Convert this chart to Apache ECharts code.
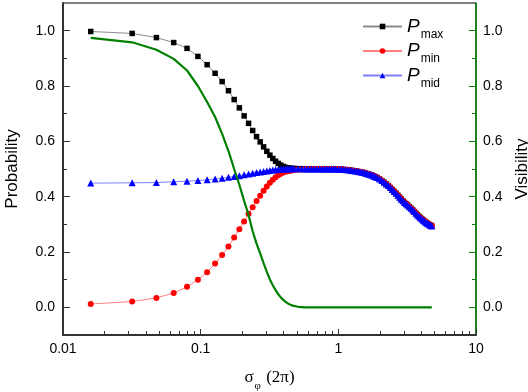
<!DOCTYPE html>
<html>
<head>
<meta charset="utf-8">
<script src="https://cdn.jsdelivr.net/npm/echarts@6/dist/echarts.min.js"></script>
<style>html,body{margin:0;padding:0;background:#fff}#c{width:528px;height:392px}</style>
</head>
<body>
<div id="c"></div>
<script>
// sigma (units of 2π), dense head part where the three curves differ
const sigmaHead = [0.0159,0.0318,0.0477,0.0637,0.0796,0.0955,0.1114,0.1273,0.1432,0.1592,0.1751,0.1910,0.2069,0.2228,0.2387,0.2546,0.2706,0.2865,0.3024,0.3183,0.3342,0.3501,0.3661,0.3820,0.3979,0.4138,0.4297,0.4456,0.4615,0.4775,0.5093,0.5411,0.5730,0.6048];
// tail part where Pmax, Pmin and Pmid coincide
const sigmaTail = [0.6366,0.6685,0.7003,0.7321,0.7639,0.7958,0.8276,0.8594,0.8913,0.9231,0.9549,1.0027,1.0504,1.0982,1.1459,1.1937,1.2414,1.2892,1.3369,1.3846,1.4324,1.4801,1.5279,1.5756,1.6234,1.6711,1.7189,1.7666,1.8144,1.8621,1.9099,1.9894,2.0690,2.1486,2.2282,2.3077,2.3873,2.4669,2.5465,2.6261,2.7056,2.7852,2.8648,2.9444,3.0239,3.1035,3.1831,3.2786,3.3741,3.4696,3.5651,3.6606,3.7561,3.8515,3.9470,4.0425,4.1380,4.2335,4.3290,4.4245,4.5200,4.6155,4.7110,4.7746];
const pTail = [0.500,0.500,0.500,0.500,0.500,0.500,0.500,0.500,0.500,0.500,0.500,0.499,0.499,0.498,0.497,0.496,0.495,0.494,0.493,0.491,0.490,0.488,0.487,0.485,0.483,0.481,0.479,0.477,0.474,0.472,0.469,0.464,0.458,0.452,0.446,0.440,0.433,0.426,0.419,0.412,0.405,0.398,0.391,0.385,0.379,0.374,0.370,0.364,0.358,0.352,0.346,0.340,0.334,0.329,0.324,0.319,0.315,0.311,0.307,0.304,0.301,0.298,0.296,0.294];
const pMaxHead = [0.997,0.990,0.975,0.957,0.936,0.907,0.877,0.846,0.816,0.783,0.751,0.721,0.692,0.665,0.639,0.617,0.598,0.580,0.564,0.550,0.538,0.528,0.520,0.514,0.509,0.506,0.504,0.503,0.502,0.502,0.501,0.501,0.500,0.500];
const pMinHead = [0.012,0.021,0.034,0.052,0.074,0.100,0.127,0.158,0.189,0.220,0.252,0.282,0.310,0.338,0.362,0.384,0.403,0.421,0.437,0.450,0.461,0.470,0.477,0.483,0.487,0.490,0.492,0.494,0.495,0.496,0.497,0.498,0.499,0.499];
const pMidHead = [0.449,0.450,0.451,0.454,0.456,0.458,0.461,0.464,0.467,0.470,0.473,0.476,0.479,0.482,0.485,0.487,0.489,0.491,0.493,0.495,0.496,0.497,0.498,0.499,0.500,0.500,0.501,0.501,0.501,0.501,0.501,0.501,0.500,0.500];
const visHead = [0.974,0.958,0.931,0.898,0.856,0.800,0.742,0.688,0.627,0.565,0.500,0.443,0.385,0.334,0.275,0.230,0.195,0.160,0.128,0.101,0.080,0.062,0.047,0.036,0.027,0.020,0.014,0.010,0.007,0.005,0.002,0.001,0,0];
const visEndSigma = [4.7746];
const visEnd = [0];

const xMajor = [0.01,0.1,1,10];
const xMinor = [0.02,0.03,0.04,0.05,0.06,0.07,0.08,0.09,0.2,0.3,0.4,0.5,0.6,0.7,0.8,0.9,2,3,4,5,6,7,8,9];
const yMajor = [0,0.2,0.4,0.6,0.8,1.0];
const yMinor = [0.1,0.3,0.5,0.7,0.9];

const zip = (xs, ys) => xs.map((x, i) => [x, ys[i]]);
const sigmaAll = sigmaHead.concat(sigmaTail);
const dMax = zip(sigmaAll, pMaxHead.concat(pTail));
const dMin = zip(sigmaAll, pMinHead.concat(pTail));
const dMid = zip(sigmaAll, pMidHead.concat(pTail));
const dVis = zip(sigmaHead.concat(visEndSigma), visHead.concat(visEnd));

const SANS = 'Liberation Sans, Arial, sans-serif';
const SERIF = 'Liberation Serif, Times New Roman, serif';
const GREEN = '#008000';
const AX = '#333333';

const chart = echarts.init(document.getElementById('c'), null, {renderer: 'canvas'});
const yBase = {type: 'value', min: -0.1, max: 1.1, splitLine: {show: false}};
chart.setOption({
  animation: false,
  backgroundColor: '#fff',
  grid: {left: 63, right: 52, top: 3, bottom: 57, containLabel: false, outerBoundsMode: 'none',
    show: true, borderColor: '#000', borderWidth: 1, backgroundColor: 'transparent'},
  legend: {
    data: ['Pmax', 'Pmin', 'Pmid'],
    orient: 'vertical', left: 357, top: 12, padding: 5, itemWidth: 39, itemHeight: 7, itemGap: 1,
    formatter: n => '{p|P}{s|' + n.slice(1) + '}',
    textStyle: {
      color: '#000', fontFamily: SANS,
      rich: {
        p: {fontSize: 19, fontStyle: 'italic', fontFamily: SANS, lineHeight: 24, verticalAlign: 'middle'},
        s: {fontSize: 12, fontFamily: SANS, lineHeight: 12, verticalAlign: 'bottom', padding: [0, 0, -2, 1]}
      }
    }
  },
  xAxis: [
    {
      type: 'log', logBase: 10, min: 0.01, max: 10, position: 'bottom',
      name: '{a|σ}{b|φ}{a| (2π)}', nameLocation: 'middle', nameGap: 34,
      nameTextStyle: {color: '#000', fontFamily: SERIF, fontSize: 17,
        rich: {a: {fontFamily: SERIF, fontSize: 17, color: '#000'},
               b: {fontFamily: SERIF, fontSize: 11, color: '#000', verticalAlign: 'bottom', padding: [0, 1, -6, 1]}}},
      axisLine: {show: true, onZero: false, lineStyle: {color: AX, width: 2}},
      axisTick: {show: true, inside: true, length: 6, customValues: xMajor, lineStyle: {color: AX, width: 1}},
      axisLabel: {show: true, customValues: xMajor, margin: 7, color: '#000', fontFamily: SANS, fontSize: 14,
        formatter: v => String(+Number(v).toPrecision(3))},
      splitLine: {show: false}, minorTick: {show: false}
    },
    {
      type: 'log', logBase: 10, min: 0.01, max: 10, position: 'bottom',
      axisLine: {show: false, onZero: false},
      axisTick: {show: true, inside: true, length: 4, customValues: xMinor, lineStyle: {color: AX, width: 1}},
      axisLabel: {show: false}, splitLine: {show: false}
    }
  ],
  yAxis: [
    Object.assign({}, yBase, {
      position: 'left', name: 'Probability', nameLocation: 'middle', nameGap: 42,
      nameTextStyle: {color: '#000', fontFamily: SANS, fontSize: 17},
      axisLine: {show: true, onZero: false, lineStyle: {color: AX, width: 2}},
      axisTick: {show: true, inside: true, length: 7, customValues: yMajor, lineStyle: {color: AX, width: 1}},
      axisLabel: {show: true, customValues: yMajor, margin: 8, color: '#000', fontFamily: SANS, fontSize: 14,
        formatter: v => Number(v).toFixed(1)}
    }),
    Object.assign({}, yBase, {
      position: 'left', axisLine: {show: false, onZero: false},
      axisTick: {show: true, inside: true, length: 4, customValues: yMinor, lineStyle: {color: AX, width: 1}},
      axisLabel: {show: false}
    }),
    Object.assign({}, yBase, {
      position: 'right', name: 'Visibility', nameLocation: 'middle', nameGap: 22, nameRotate: 90,
      nameTextStyle: {color: '#000', fontFamily: SANS, fontSize: 17},
      axisLine: {show: true, onZero: false, lineStyle: {color: GREEN, width: 1.5}},
      axisTick: {show: true, inside: true, length: 7, customValues: yMajor, lineStyle: {color: GREEN, width: 1}},
      axisLabel: {show: true, customValues: yMajor, margin: 7, color: '#000', fontFamily: SANS, fontSize: 14,
        formatter: v => Number(v).toFixed(1)}
    }),
    Object.assign({}, yBase, {
      position: 'right', axisLine: {show: false, onZero: false},
      axisTick: {show: true, inside: true, length: 4, customValues: yMinor, lineStyle: {color: GREEN, width: 1}},
      axisLabel: {show: false}
    })
  ],
  series: [
    {name: 'Pmax', type: 'line', xAxisIndex: 0, yAxisIndex: 0, data: dMax, symbol: 'rect', symbolSize: 5.5,
      itemStyle: {color: '#000'}, lineStyle: {color: '#8c8c8c', width: 1}, z: 2},
    {name: 'Pmin', type: 'line', xAxisIndex: 0, yAxisIndex: 0, data: dMin, symbol: 'circle', symbolSize: 6,
      itemStyle: {color: '#ff0000'}, lineStyle: {color: '#ff8080', width: 1}, z: 3},
    {name: 'Pmid', type: 'line', xAxisIndex: 0, yAxisIndex: 0, data: dMid, symbol: 'triangle', symbolSize: 7,
      itemStyle: {color: '#0000ff'}, lineStyle: {color: '#8080ff', width: 1}, z: 4},
    {name: 'Visibility', type: 'line', xAxisIndex: 0, yAxisIndex: 2, data: dVis, symbol: 'none', smooth: false,
      lineStyle: {color: GREEN, width: 2.2}, itemStyle: {color: GREEN}, z: 5}
  ]
});
</script>
</body>
</html>
